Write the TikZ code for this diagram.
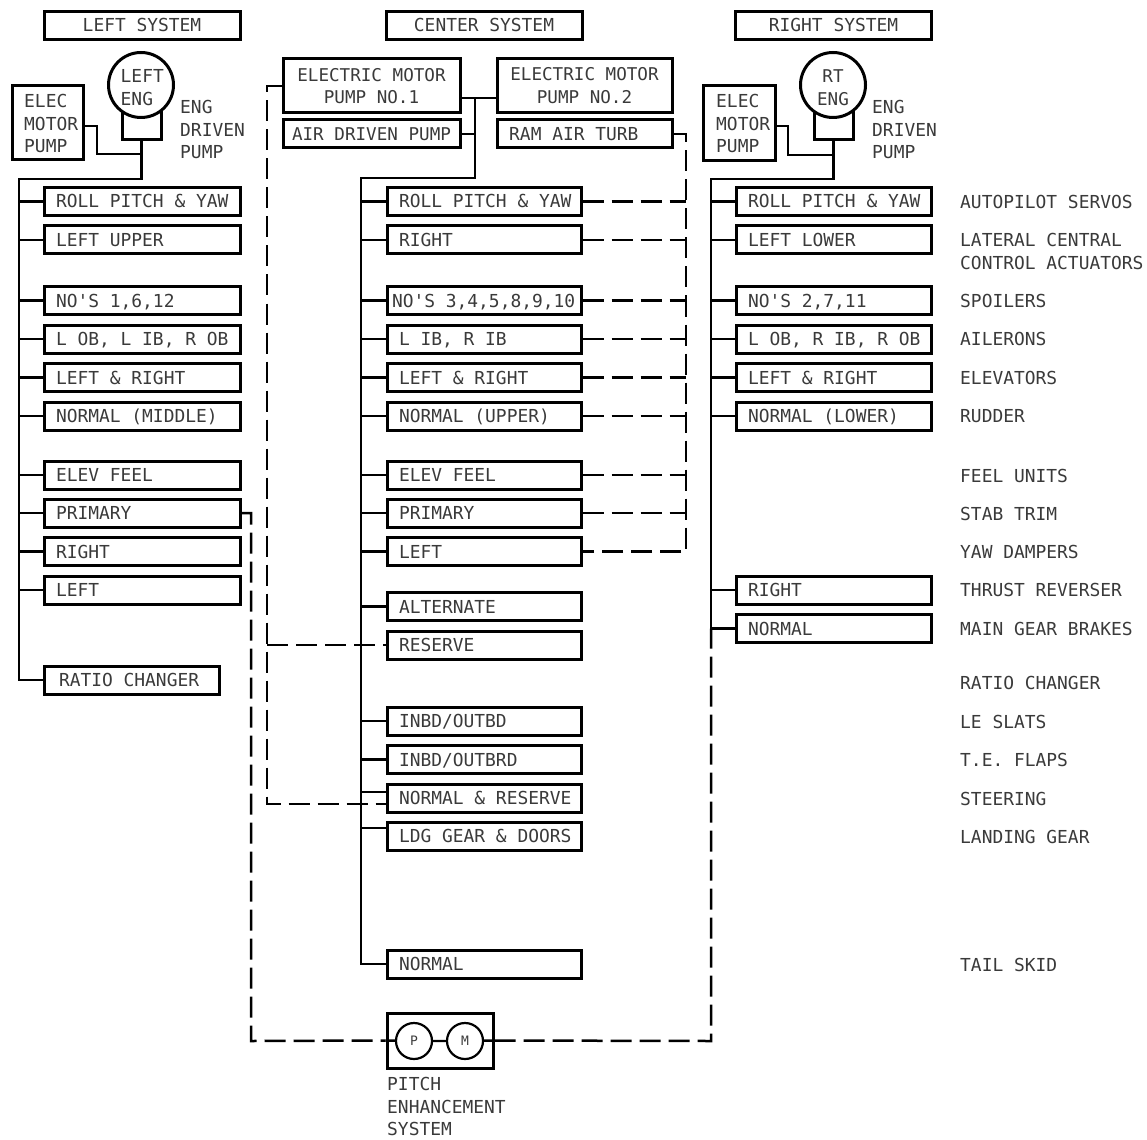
\documentclass[tikz,border=0pt]{standalone}
\usepackage{fontspec}
\usepackage{xcolor}
\usepackage{tikz}
\usetikzlibrary{calc}
\setmonofont{DejaVu Sans Mono}
\definecolor{inkgray}{HTML}{3A3A3A}
\tikzset{
  rowbox/.style={draw=black, line width=3pt, minimum width=196pt, minimum height=28pt, inner xsep=5pt, inner ysep=0pt, text width=186pt, align=flush left, text=inkgray, text height=13pt, text depth=0pt, font=\ttfamily\fontsize{17.9}{22.5}\selectfont},
  rowindent/.style={execute at begin node=\hspace*{#1}},
  pumpbox/.style={draw=black, line width=3pt, inner sep=0pt, text=inkgray, align=center, font=\ttfamily\fontsize{17.6}{22.5}\selectfont},
  lbl/.style={inner sep=0pt, anchor=west, align=left, text=inkgray, font=\ttfamily\fontsize{17.9}{22.5}\selectfont},
  tie/.style={line width=2.4pt, line join=miter},
  dashtie/.style={line width=2.5pt, dash pattern=on 21pt off 8pt},
}
\begin{document}
\begin{tikzpicture}[x=1pt, y=-1pt]
  \useasboundingbox (0,0) rectangle (1147,1139);

  % System headers
  \node[rowbox, text width=, align=center] (lhead) at (142,25.5) {LEFT SYSTEM};
  \node[rowbox, text width=, align=center] (chead) at (484,25.5) {CENTER SYSTEM};
  \node[rowbox, text width=, align=center] (rhead) at (833.5,25.5) {RIGHT SYSTEM};

  % Left system
  \foreach \n/\y/\t in {roll/201.5/{ROLL PITCH \& YAW}, lat/240/{LEFT UPPER}, spoil/300.5/{NO'S 1,6,12},
      ail/339/{L OB, L IB, R OB}, elev/377.5/{LEFT \& RIGHT}, rud/416/{NORMAL (MIDDLE)},
      feel/475/{ELEV FEEL}, stab/513/{PRIMARY}, yaw/551.5/{RIGHT}, thr/590/{LEFT}}
    \node[rowbox, rowindent=7pt] (l\n) at (142,\y) {\t};
  \node[rowbox, rowindent=10pt, minimum width=175pt, text width=165pt] (lratio) at (131.5,680) {RATIO CHANGER};

  \node[pumpbox, minimum width=71pt, minimum height=74pt] (lelec) at (47.5,123) {};
  \node[lbl] (lelectxt) at (24,123.5) {ELEC\\MOTOR\\PUMP};
  \node[pumpbox, minimum width=39pt, minimum height=30pt] (lpump) at (141.5,125) {};
  \node[pumpbox, circle, fill=white, minimum size=65pt] (lengine) at (141,85) {};
  \node[lbl] (lengtxt) at (120.5,87.5) {LEFT\\ENG};
  \node[lbl] (ldrv) at (180,129.5) {ENG\\DRIVEN\\PUMP};

  \coordinate (ltop) at (19,179);
  \coordinate (ljoin) at (141.5,154);
  \draw[tie] (lpump.south) |- (ltop) -- (ltop |- lratio) -- (lratio);
  \draw[tie] ([yshift=-3pt]lelec.east) -| (97,154) -- (ljoin);
  \foreach \n in {roll,lat,spoil,ail,elev,rud,feel,stab,yaw,thr}
    \draw[tie] (ltop |- l\n) -- (l\n);

  % Center system
  \foreach \n/\y/\t in {roll/201.5/{ROLL PITCH \& YAW}, lat/240/{RIGHT}, ail/339/{L IB, R IB},
      elev/377.5/{LEFT \& RIGHT}, rud/416/{NORMAL (UPPER)}, feel/475/{ELEV FEEL}, stab/513/{PRIMARY},
      yaw/551.5/{LEFT}, alt/606.5/{ALTERNATE}, res/645/{RESERVE}, sltz/721/{INBD/OUTBD},
      flap/759.5/{INBD/OUTBRD}, steer/798/{NORMAL \& RESERVE}, ldg/836/{LDG GEAR \& DOORS}, skid/964/{NORMAL}}
    \node[rowbox, rowindent=7pt, minimum width=194pt, text width=184pt] (c\n) at (484,\y) {\t};
  \node[rowbox, minimum width=194pt, text width=184pt] (cspoil) at (484,300.5) {NO'S 3,4,5,8,9,10};

  \node[pumpbox, minimum width=177pt, minimum height=54pt] (cemp1) at (371.5,86) {ELECTRIC MOTOR\\PUMP NO.1};
  \node[pumpbox, minimum width=177pt, minimum height=28pt] (cadp) at (371.5,134) {AIR DRIVEN PUMP};
  \node[pumpbox, minimum width=175pt, minimum height=54pt] (cemp2) at (584.5,85.5) {ELECTRIC MOTOR\\PUMP NO.2};
  \node[pumpbox, minimum width=175pt, minimum height=28pt] (cram) at (584.5,134) {};
  \node[lbl] (cramtxt) at (509,134) {RAM AIR TURB};

  \coordinate (ctop) at (475,178);
  \coordinate (cbus) at (361,178);
  \draw[tie] (cemp1.east |- 0,98) -- (cemp2.west |- 0,98);
  \draw[tie] (ctop |- 0,98) -- (ctop) -- (cbus) -- (cbus |- cskid) -- (cskid);
  \draw[tie] (cadp.east) -- (ctop |- cadp);
  \foreach \n in {roll,lat,spoil,ail,elev,rud,feel,stab,yaw,alt,sltz,flap}
    \draw[tie] (cbus |- c\n) -- (c\n);
  \draw[tie] (cbus |- 0,792) -- ([yshift=6pt]csteer.west);
  \draw[tie] (cbus |- 0,828) -- ([yshift=8pt]cldg.west);

  % Dashed feeds on the right of center
  \coordinate (cdash) at (686,134);
  \draw[dashtie] (cram.east) -- (cdash) -- (cdash |- cyaw) -- (cyaw.east);
  \foreach \n in {roll,lat,spoil,ail,elev,rud,feel,stab}
    \draw[dashtie] (c\n.east) -- (cdash |- c\n);

  % Dashed feeds on the left of center
  \coordinate (ddash) at (267,86);
  \draw[dashtie] (cemp1.west) -- (ddash) -- (ddash |- 0,804) -- ([yshift=-6pt]csteer.west);
  \draw[dashtie] (ddash |- cres) -- (cres);

  % Right system
  \foreach \n/\y/\t in {roll/201.5/{ROLL PITCH \& YAW}, lat/240/{LEFT LOWER}, spoil/300.5/{NO'S 2,7,11},
      ail/339/{L OB, R IB, R OB}, elev/377.5/{LEFT \& RIGHT}, rud/416/{NORMAL (LOWER)},
      thr/590/{RIGHT}, brk/628.5/{NORMAL}}
    \node[rowbox, rowindent=7pt, minimum width=195pt, text width=185pt] (r\n) at (833.5,\y) {\t};

  \node[pumpbox, minimum width=72pt, minimum height=75pt] (relec) at (739,123) {};
  \node[lbl] (relectxt) at (716,123.5) {ELEC\\MOTOR\\PUMP};
  \node[pumpbox, minimum width=39pt, minimum height=30pt] (rpump) at (833.5,125) {};
  \node[pumpbox, circle, fill=white, minimum size=65pt] (rengine) at (833,85) {};
  \node[pumpbox, draw=none, fill=none] (rengtxt) at (833,87.5) {RT\\ENG};
  \node[lbl] (rdrv) at (872,129.5) {ENG\\DRIVEN\\PUMP};

  \coordinate (rtop) at (711,179);
  \coordinate (rjoin) at (833.5,155);
  \draw[tie] (rpump.south) |- (rtop) -- (rtop |- rbrk);
  \draw[tie] ([yshift=-3pt]relec.east) -| (788,155) -- (rjoin);
  \foreach \n in {roll,lat,spoil,ail,elev,rud,thr,brk}
    \draw[tie] (rtop |- r\n) -- (r\n);

  % Function names
  \node[lbl] (fap) at (960,202) {AUTOPILOT SERVOS};
  \node[lbl] (fla) at (960,251.5) {LATERAL CENTRAL\\CONTROL ACTUATORS};
  \node[lbl] (fsp) at (960,300.5) {SPOILERS};
  \node[lbl] (fai) at (960,339) {AILERONS};
  \node[lbl] (fel) at (960,378) {ELEVATORS};
  \node[lbl] (fru) at (960,416.5) {RUDDER};
  \node[lbl] (ffe) at (960,475.5) {FEEL UNITS};
  \node[lbl] (fst) at (960,513.5) {STAB TRIM};
  \node[lbl] (fya) at (960,552) {YAW DAMPERS};
  \node[lbl] (fth) at (960,590) {THRUST REVERSER};
  \node[lbl] (fbr) at (960,628.5) {MAIN GEAR BRAKES};
  \node[lbl] (fra) at (960,683) {RATIO CHANGER};
  \node[lbl] (fsl) at (960,721.5) {LE SLATS};
  \node[lbl] (ffl) at (960,760) {T.E. FLAPS};
  \node[lbl] (fsr) at (960,798.5) {STEERING};
  \node[lbl] (fld) at (960,836.5) {LANDING GEAR};
  \node[lbl] (fsk) at (960,965) {TAIL SKID};

  % Pitch enhancement
  \node[pumpbox, minimum width=106pt, minimum height=55pt] (pbox) at (440,1040.5) {};
  \node[pumpbox, circle, line width=2.2pt, minimum size=36pt, font=\ttfamily\fontsize{13}{15}\selectfont] (pp) at (414,1041) {P};
  \node[pumpbox, circle, line width=2.2pt, minimum size=36pt, font=\ttfamily\fontsize{13}{15}\selectfont] (pm) at (465,1041) {M};
  \node[lbl] (ptxt) at (387,1106.5) {PITCH\\ENHANCEMENT\\SYSTEM};
  \draw[tie] (pbox.west) -- (pp) -- (pm) -- (pbox.east);

  \coordinate (pleft) at (251,1041);
  \coordinate (pright) at (711,1041);
  \draw[dashtie] (lstab.east) -- (lstab.east -| pleft) -- (pleft) -- (pbox.west);
  \draw[dashtie] (pbox.east) -- (pright) -- (rtop |- rbrk);
\end{tikzpicture}
\end{document}
